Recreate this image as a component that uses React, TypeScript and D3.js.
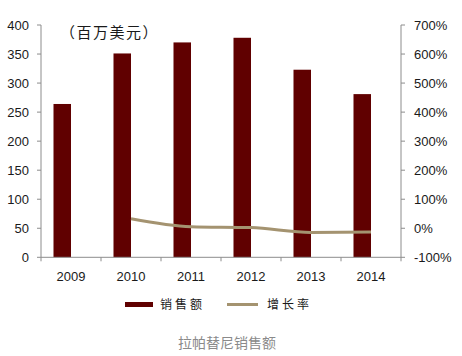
import React from "react";
import * as d3 from "d3";

const years = ["2009", "2010", "2011", "2012", "2013", "2014"];
const sales = [264, 351, 370, 378, 323, 281];
const growthYears = ["2010", "2011", "2012", "2013", "2014"];
const growth = [33, 5.4, 2.2, -14.4, -13];
const leftTicks = [0, 50, 100, 150, 200, 250, 300, 350, 400];
const rightTicks = [-100, 0, 100, 200, 300, 400, 500, 600, 700];
const seriesSlots = ["销售额", "空"];

const W = 462, H = 356;
const L = 41, R = 401, T = 25, B = 257.3;
const barColor = "#600000";
const lineColor = "#a49370";
const axisColor = "#8c8c8c";
const font = "'Liberation Sans', 'DejaVu Sans', sans-serif";
const cjk = "'Noto Sans CJK SC', sans-serif";

export default function App() {
  const x = d3.scaleBand<string>().domain(years).range([L, R]).padding(0);
  const x1 = d3.scaleBand<string>().domain(seriesSlots).range([0, x.bandwidth()]).paddingInner(0).paddingOuter(0.714);
  const y = d3.scaleLinear().domain([0, 400]).range([B, T]);
  const y2 = d3.scaleLinear().domain([-100, 700]).range([B, T]);
  const line = d3.line<number>()
    .x((_, i) => (x(growthYears[i]) as number) + x.bandwidth() / 2)
    .y((d) => y2(d))
    .curve(d3.curveMonotoneX);

  return (
    <svg width={W} height={H} style={{ position: "absolute", left: 0, top: 0, background: "#fff" }}>
      {sales.map((v, i) => (
        <rect key={i} x={(x(years[i]) as number) + (x1("销售额") as number)} y={y(v)}
          width={x1.bandwidth()} height={y(0) - y(v)} fill={barColor} />
      ))}
      <line x1={L} x2={L} y1={T} y2={B} stroke={axisColor} strokeWidth={1} />
      {leftTicks.map((t) => (
        <g key={t}>
          <line x1={L - 4} x2={L} y1={y(t)} y2={y(t)} stroke={axisColor} />
          <text x={29} y={y(t)} dy="0.35em" textAnchor="end" fontSize={13} fontFamily={font} fill="#1a1a1a">{t}</text>
        </g>
      ))}
      <line x1={R} x2={R} y1={T} y2={B} stroke={axisColor} strokeWidth={1} />
      {rightTicks.map((t) => (
        <g key={t}>
          <line x1={R} x2={R + 4} y1={y2(t)} y2={y2(t)} stroke={axisColor} />
          <text x={414} y={y2(t)} dy="0.35em" textAnchor="start" fontSize={13} fontFamily={font} fill="#1a1a1a">{t}%</text>
        </g>
      ))}
      <line x1={L} x2={R} y1={B} y2={B} stroke={axisColor} />
      {years.map((yr, i) => (
        <g key={yr}>
          <line x1={(x(yr) as number) + x.bandwidth()} x2={(x(yr) as number) + x.bandwidth()} y1={B} y2={B + 4} stroke={axisColor} />
          {i === 0 && <line x1={L} x2={L} y1={B} y2={B + 4} stroke={axisColor} />}
          <text x={(x(yr) as number) + x.bandwidth() / 2} y={276.5} dy="0.35em" textAnchor="middle" fontSize={13} fontFamily={font} fill="#1a1a1a">{yr}</text>
        </g>
      ))}
      <path d={line(growth) || ""} fill="none" stroke={lineColor} strokeWidth={3} />
      <text x={60} y={33} dy="0.35em" fontSize={15} fontFamily={cjk} fill="#1a1a1a" letterSpacing={1.5}>（百万美元）</text>
      <rect x={125} y={302} width={28} height={5} fill={barColor} />
      <text x={160} y={304.5} dy="0.35em" fontSize={12} fontFamily={cjk} fill="#1a1a1a" letterSpacing={3}>销售额</text>
      <line x1={227} x2={258} y1={304.5} y2={304.5} stroke={lineColor} strokeWidth={3} />
      <text x={267} y={304.5} dy="0.35em" fontSize={12} fontFamily={cjk} fill="#1a1a1a" letterSpacing={3}>增长率</text>
      <text x={227} y={343} dy="0.35em" textAnchor="middle" fontSize={14} fontFamily={cjk} fill="#8a8a8a">拉帕替尼销售额</text>
    </svg>
  );
}
